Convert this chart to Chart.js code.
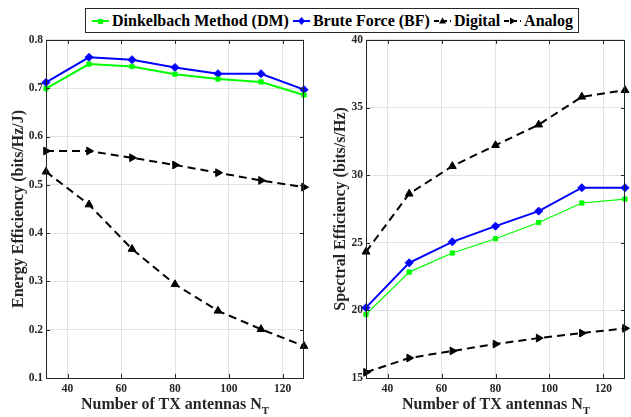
<!DOCTYPE html>
<html>
<head>
<meta charset="utf-8">
<script src="https://cdn.jsdelivr.net/npm/chart.js@4.4.0/dist/chart.umd.min.js"></script>
<style>
    body { margin: 0; background: #fff; width: 631px; height: 417px; overflow: hidden; position: relative; }
    .box { position: absolute; }
    .legend {
        position: absolute; left: 85px; top: 8px; height: 23px; padding: 0 5px 0 2px;
        border: 1px solid #262626; background: #fff; display: flex; align-items: center;
        font: bold 16px 'Liberation Serif', 'Times New Roman', serif; color: #000; white-space: nowrap;
    }
    .legend svg { margin: 0 3px 0 4px; }
    .xtitle {
        position: absolute; top: 395px; width: 260px; text-align: center; line-height: 18px;
        font: bold 16px 'Liberation Serif', 'Times New Roman', serif; color: #262626;
    }
    .xtitle sub { font-size: 11px; vertical-align: -5px; line-height: 0; }
</style>
</head>
<body>
<div class="legend">
    <svg width="17" height="10"><line x1="0" y1="5" x2="17" y2="5" stroke="#00ff00" stroke-width="2"/><rect x="6" y="3" width="5" height="5" fill="#00ff00"/></svg>Dinkelbach Method (DM)
    <svg width="17" height="10"><line x1="0" y1="5" x2="17" y2="5" stroke="#0000ff" stroke-width="2"/><polygon points="8.5,1 12,5 8.5,9 5,5" fill="#0000ff"/></svg>Brute Force (BF)
    <svg width="17" height="10"><line x1="0" y1="5" x2="17" y2="5" stroke="#000" stroke-width="2" stroke-dasharray="5,3"/><polygon points="8.5,1.5 12,7.5 5,7.5" fill="#000"/></svg>Digital
    <svg width="17" height="10"><line x1="0" y1="5" x2="17" y2="5" stroke="#000" stroke-width="2" stroke-dasharray="5,3"/><polygon points="12,5 6,1.5 6,8.5" fill="#000"/></svg>Analog
</div>
<div class="box" style="left:0; top:30px; width:315px; height:387px;"><canvas id="eeChart"></canvas></div>
<div class="box" style="left:315px; top:30px; width:316px; height:387px;"><canvas id="seChart"></canvas></div>
<div class="xtitle" style="left:45px;">Number of TX antennas N<sub>T</sub></div>
<div class="xtitle" style="left:366px;">Number of TX antennas N<sub>T</sub></div>

<script>
const nt = [32, 48, 64, 80, 96, 112, 128];
const xTicks = [40, 60, 80, 100, 120];

// energy efficiency (bits/Hz/J)
const eeDM = [0.699, 0.750, 0.745, 0.729, 0.719, 0.713, 0.686];
const eeBF = [0.712, 0.764, 0.759, 0.743, 0.730, 0.730, 0.697];
const eeDigital = [0.527, 0.459, 0.367, 0.294, 0.239, 0.201, 0.166];
const eeAnalog = [0.570, 0.570, 0.556, 0.541, 0.525, 0.509, 0.495];
const eeTicks = [0.1, 0.2, 0.3, 0.4, 0.5, 0.6, 0.7, 0.8];

// spectral efficiency (bits/s/Hz)
const seDM = [19.70, 22.83, 24.24, 25.30, 26.50, 27.94, 28.23];
const seBF = [20.20, 23.52, 25.07, 26.23, 27.34, 29.07, 29.07];
const seDigital = [24.33, 28.62, 30.66, 32.21, 33.73, 35.79, 36.28];
const seAnalog = [15.42, 16.48, 17.00, 17.51, 17.95, 18.32, 18.67];
const seTicks = [15, 20, 25, 30, 35, 40];

const font = "'Liberation Serif', 'Times New Roman', serif";
const axisColor = '#262626';
const gridColor = '#e2e2e2';

// matlab style box with inward ticks
const boxPlugin = {
    id: 'axesBox',
    afterDatasetsDraw(chart) {
        const { ctx, chartArea: a, scales } = chart;
        ctx.save();
        ctx.strokeStyle = axisColor;
        ctx.lineWidth = 1;
        ctx.strokeRect(Math.round(a.left) + 0.5, Math.round(a.top) + 0.5,
            Math.round(a.right - a.left) - 1, Math.round(a.bottom - a.top));
        ctx.beginPath();
        scales.x.ticks.forEach(t => {
            const px = Math.round(scales.x.getPixelForValue(t.value)) + 0.5;
            ctx.moveTo(px, a.bottom); ctx.lineTo(px, a.bottom - 4);
            ctx.moveTo(px, a.top); ctx.lineTo(px, a.top + 4);
        });
        scales.y.ticks.forEach(t => {
            const py = Math.round(scales.y.getPixelForValue(t.value)) + 0.5;
            ctx.moveTo(a.left, py); ctx.lineTo(a.left + 4, py);
            ctx.moveTo(a.right, py); ctx.lineTo(a.right - 4, py);
        });
        ctx.stroke();
        ctx.restore();
    }
};

function makeDatasets(dm, bf, digital, analog, dmWidth) {
    return [
        {
            label: 'Dinkelbach Method (DM)', data: dm,
            borderColor: '#00ff00', backgroundColor: '#00ff00', borderWidth: dmWidth,
            pointStyle: 'rect', pointRadius: 3, pointBorderWidth: 1
        },
        {
            label: 'Brute Force (BF)', data: bf,
            borderColor: '#0000ff', backgroundColor: '#0000ff', borderWidth: 2,
            pointStyle: 'rectRot', pointRadius: 4, pointBorderWidth: 1
        },
        {
            label: 'Digital', data: digital,
            borderColor: '#000', backgroundColor: '#000', borderWidth: 2, borderDash: [8, 5],
            pointStyle: 'triangle', pointRadius: 4.5, pointBorderWidth: 1
        },
        {
            label: 'Analog', data: analog,
            borderColor: '#000', backgroundColor: '#000', borderWidth: 2, borderDash: [8, 5],
            pointStyle: 'triangle', pointRotation: 90, pointRadius: 4.5, pointBorderWidth: 1
        }
    ].map(d => Object.assign(d, { fill: false, tension: 0, clip: false }));
}

function createChart(id, datasets, yMin, yMax, yTicks, yTitle, yWidth, padRight, titlePad, fmt) {
    const ctx = document.getElementById(id);
    return new Chart(ctx, {
        type: 'line',
        data: { labels: nt, datasets: datasets },
        plugins: [boxPlugin],
        options: {
            responsive: true,
            maintainAspectRatio: false,
            animation: false,
            layout: { padding: { top: 9, right: padRight, bottom: 0, left: 0 } },
            plugins: { legend: { display: false }, tooltip: { enabled: false } },
            scales: {
                x: {
                    type: 'linear', min: 32, max: 128,
                    afterBuildTicks: axis => { axis.ticks = xTicks.map(v => ({ value: v })); },
                    afterFit: axis => { axis.height = 39; },
                    grid: { color: gridColor, drawTicks: false },
                    border: { display: false },
                    ticks: {
                        autoSkip: false, maxRotation: 0, padding: 4, color: axisColor,
                        font: { family: font, size: 11.5, weight: 'bold' }
                    }
                },
                y: {
                    type: 'linear', min: yMin, max: yMax,
                    afterBuildTicks: axis => { axis.ticks = yTicks.map(v => ({ value: v })); },
                    afterFit: axis => { axis.width = yWidth; },
                    grid: { color: gridColor, drawTicks: false },
                    border: { display: false },
                    ticks: {
                        padding: 3, color: axisColor,
                        font: { family: font, size: 11.5, weight: 'bold' },
                        callback: v => fmt(v)
                    },
                    title: {
                        display: true, text: yTitle, color: axisColor,
                        padding: { top: titlePad, bottom: 0 },
                        font: { family: font, size: 16, weight: 'bold' }
                    }
                }
            }
        }
    });
}

function xy(values) {
    return values.map((v, i) => ({ x: nt[i], y: v }));
}

createChart('eeChart',
    makeDatasets(xy(eeDM), xy(eeBF), xy(eeDigital), xy(eeAnalog), 2),
    0.1, 0.8, eeTicks, 'Energy Efficiency (bits/Hz/J)', 46, 11, 9, v => v.toFixed(1));

createChart('seChart',
    makeDatasets(xy(seDM), xy(seBF), xy(seDigital), xy(seAnalog), 1.2),
    15, 40, seTicks, 'Spectral Efficiency (bits/s/Hz)', 51, 6, 16, v => String(v));
</script>
</body>
</html>
